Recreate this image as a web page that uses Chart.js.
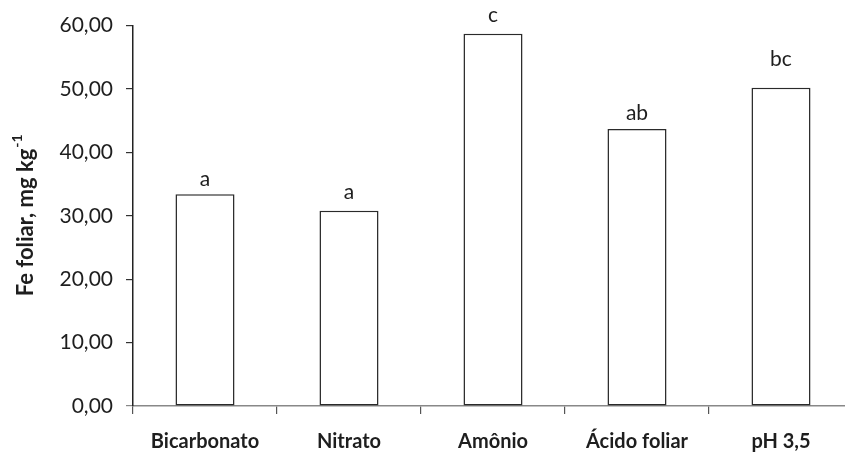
<!DOCTYPE html>
<html>
<head>
<meta charset="utf-8">
<script src="https://cdn.jsdelivr.net/npm/chart.js@4"></script>
<style>
  html, body { margin: 0; padding: 0; background: #fff; overflow: hidden; }
  #wrap { width: 845px; height: 455px; overflow: hidden; }
</style>
</head>
<body>
<div id="wrap"><canvas id="grafico" width="853" height="455"></canvas></div>
<script>
// Dados
const tratamentos = ['Bicarbonato', 'Nitrato', 'Amônio', 'Ácido foliar', 'pH 3,5'];
const feFoliar = [33.4, 30.8, 58.7, 43.7, 50.2];
const letras = ['a', 'a', 'c', 'ab', 'bc'];

const corTexto = '#1e1e1e';

// Letras de significância acima das barras
const letrasPlugin = {
    id: 'letras',
    afterDatasetsDraw(chart, args, opts) {
        const ctx = chart.ctx;
        const meta = chart.getDatasetMeta(0);
        ctx.save();
        ctx.font = '21px Lato';
        ctx.fillStyle = corTexto;
        ctx.textAlign = 'center';
        ctx.textBaseline = 'alphabetic';
        meta.data.forEach((bar, i) => {
            ctx.fillText(letras[i], bar.x, bar.y - opts.gaps[i]);
        });
        ctx.restore();
    }
};

// Título do eixo y com expoente
const tituloPlugin = {
    id: 'tituloY',
    afterDraw(chart) {
        const ctx = chart.ctx;
        const area = chart.chartArea;
        const base = 'Fe foliar, mg kg';
        const sup = '-1';
        ctx.save();
        ctx.translate(33, (area.top + area.bottom) / 2);
        ctx.rotate(-Math.PI / 2);
        ctx.fillStyle = corTexto;
        ctx.font = 'bold 22px Lato';
        const wBase = ctx.measureText(base).width;
        ctx.font = 'bold 14px Lato';
        const wSup = ctx.measureText(sup).width;
        const x0 = -(wBase + wSup) / 2;
        ctx.textBaseline = 'alphabetic';
        ctx.font = 'bold 22px Lato';
        ctx.fillText(base, x0, 0);
        ctx.font = 'bold 14px Lato';
        ctx.fillText(sup, x0 + wBase + 1, -11);
        ctx.restore();
    }
};

new Chart(document.getElementById('grafico'), {
    type: 'bar',
    data: {
        labels: tratamentos,
        datasets: [{
            data: feFoliar,
            backgroundColor: '#ffffff',
            borderColor: '#2a2a2a',
            borderWidth: 1.5,
            borderSkipped: false,
            categoryPercentage: 1,
            barPercentage: 0.41
        }]
    },
    options: {
        responsive: false,
        devicePixelRatio: 1,
        animation: false,
        layout: { padding: { top: 25, left: 0, right: 0, bottom: 0 } },
        plugins: {
            legend: { display: false },
            tooltip: { enabled: false },
            letras: { gaps: [8, 12, 12, 9, 22] }
        },
        scales: {
            x: {
                offset: true,
                border: { color: '#888', width: 1.5 },
                grid: { drawOnChartArea: false, offset: true, tickLength: 8, color: '#555', lineWidth: 1.2 },
                ticks: {
                    color: corTexto,
                    padding: 16,
                    maxRotation: 0,
                    font: { family: 'Lato', size: 20, weight: 'bold' }
                },
                afterFit(scale) { scale.height = 49; }
            },
            y: {
                min: 0,
                max: 60,
                border: { color: '#222', width: 1.5 },
                grid: {
                    drawOnChartArea: false,
                    tickLength: 7,
                    color: ctx => ctx.index === 0 ? '#888' : '#333',
                    lineWidth: 1.2
                },
                ticks: {
                    stepSize: 10,
                    color: corTexto,
                    padding: 13,
                    font: { family: 'Lato', size: 21 },
                    callback: v => v.toFixed(2).replace('.', ',')
                },
                afterFit(scale) { scale.width = 133; }
            }
        }
    },
    plugins: [letrasPlugin, tituloPlugin]
});
</script>
</body>
</html>
